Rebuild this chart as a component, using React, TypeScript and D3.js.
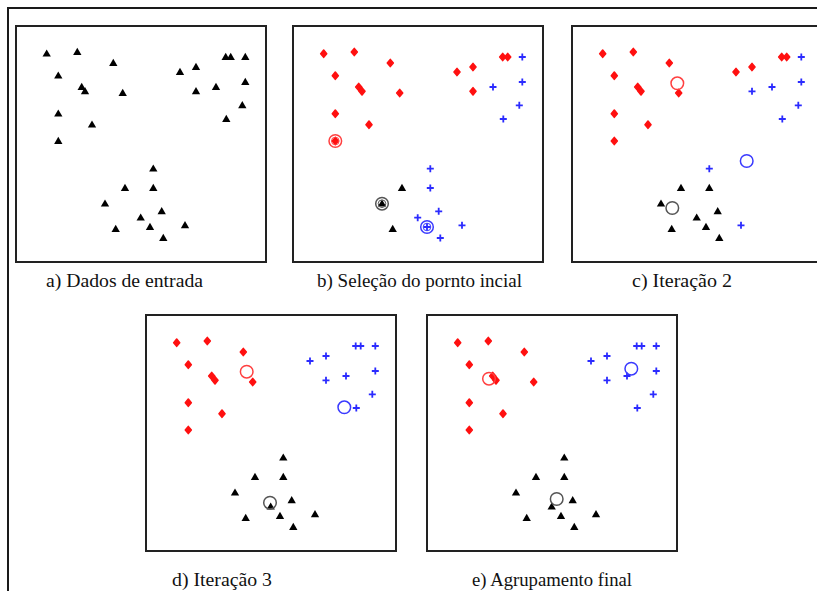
import * as d3 from "d3";

// point coordinates, in pixels inside a 250 x 236 panel (y down)
const pointX = [
  30.7, 61.3, 97.3, 42.3, 65.7, 69, 106.7, 42.3, 76, 42.3,
  164, 180, 180, 200, 209.7, 214.7, 229.3, 229.3, 226.3, 210.3,
  137.3, 109, 137.3, 89, 145.7, 124.7, 134, 169, 99.7, 147.3,
];
const pointY = [
  27.7, 26, 37, 49.7, 61, 65.3, 67, 87.7, 98.7, 115,
  46, 41, 65.3, 61, 31, 31, 31, 56, 79.3, 93,
  142.7, 162, 162, 177.7, 185.3, 191.7, 201, 199.3, 203, 212,
];

// cluster of every point in each panel: r = red, b = blue, k = black, a = unassigned
const groupsA = "aaaaaaaaaaaaaaaaaaaaaaaaaaaaaa";
const groupsB = "rrrrrrrrrrrrrbrrbbbbbkbkbbbbkb";
const groupsC = "rrrrrrrrrrrrbbrrbbbbbkkkkkkbkk";
const groupsD = "rrrrrrrrrrbbbbbbbbbbkkkkkkkkkk";
const groupsE = "rrrrrrrrrrbbbbbbbbbbkkkkkkkkkk";

// centroids [x, y] per panel (red, blue, black)
const centroidsB = [[42.3, 115], [134, 201], [89, 177.7]];
const centroidsC = [[105.3, 57.3], [174.7, 135], [100.3, 182]];
const centroidsD = [[100.7, 56.7], [198.3, 92.3], [124, 187.7]];
const centroidsE = [[62, 63.7], [204.3, 53.7], [129.7, 184]];

const labels = [
  "a) Dados de entrada",
  "b) Seleção do pornto incial",
  "c) Iteração 2",
  "d) Iteração 3",
  "e) Agrupamento final",
];

const panels = [
  { x: 16, y: 26, groups: groupsA, centroids: [], initial: false, label: labels[0], lx: 46, ly: 287, lw: 157 },
  { x: 293, y: 26, groups: groupsB, centroids: centroidsB, initial: true, label: labels[1], lx: 317, ly: 287, lw: 205 },
  { x: 572, y: 26, groups: groupsC, centroids: centroidsC, initial: false, label: labels[2], lx: 632, ly: 287, lw: 100 },
  { x: 146, y: 315, groups: groupsD, centroids: centroidsD, initial: false, label: labels[3], lx: 172, ly: 586, lw: 100 },
  { x: 427, y: 315, groups: groupsE, centroids: centroidsE, initial: false, label: labels[4], lx: 472, ly: 586, lw: 160 },
];

const W = 250;
const H = 236;
const x = d3.scaleLinear().domain([0, 250]).range([0, W]);
const y = d3.scaleLinear().domain([0, 236]).range([0, H]);

const RED = "#ff1010";
const BLUE = "#2b2bff";
const centroidColor = ["#ff4040", "#3a3aff", "#555"];

const triangle = d3.symbol().type(d3.symbolTriangle).size(30)()!;
const diamond = "M0,-3.6L3,0L0,3.6L-3,0Z";

function Marker({ g, cx, cy }: { g: string; cx: number; cy: number }) {
  const t = `translate(${cx},${cy})`;
  if (g === "r")
    return <path d={diamond} transform={t} fill={RED} stroke={RED} strokeWidth={1.6} strokeLinejoin="round" />;
  if (g === "b")
    return <path d="M-3.5,0H3.5M0,-3.5V3.5" transform={t} stroke={BLUE} strokeWidth={1.8} fill="none" />;
  return <path d={triangle} transform={`translate(${cx},${cy + 0.5})`} fill="#000" />;
}

function Panel({ p }: { p: (typeof panels)[number] }) {
  return (
    <g>
      <g transform={`translate(${p.x},${p.y})`}>
        <rect x={0} y={0} width={W} height={H} fill="#fff" stroke="#222" strokeWidth={2} />
        {pointX.map((px, i) => (
          <Marker key={i} g={p.groups[i]} cx={x(px)} cy={y(pointY[i])} />
        ))}
        {p.centroids.map((c, i) => (
          <g key={i}>
            <circle cx={x(c[0])} cy={y(c[1])} r={6.3} fill="none" stroke={centroidColor[i]} strokeWidth={1.5} />
            {p.initial && (
              <circle cx={x(c[0])} cy={y(c[1])} r={3.8} fill="none" stroke={centroidColor[i]} strokeWidth={1} />
            )}
          </g>
        ))}
      </g>
      <text
        x={p.lx}
        y={p.ly}
        textLength={p.lw}
        lengthAdjust="spacingAndGlyphs"
        style={{ fontFamily: '"Times New Roman", "Liberation Serif", serif', fontSize: "18px" }}
        fill="#111"
      >
        {p.label}
      </text>
    </g>
  );
}

export default function App() {
  return (
    <svg width={817} height={591} style={{ position: "absolute", left: 0, top: 0, background: "#fff" }}>
      <rect x={0} y={0} width={817} height={591} fill="#fff" />
      <path d="M8,600V8H830" fill="none" stroke="#1a1a1a" strokeWidth={2} />
      {panels.map((p, i) => (
        <Panel key={i} p={p} />
      ))}
    </svg>
  );
}
